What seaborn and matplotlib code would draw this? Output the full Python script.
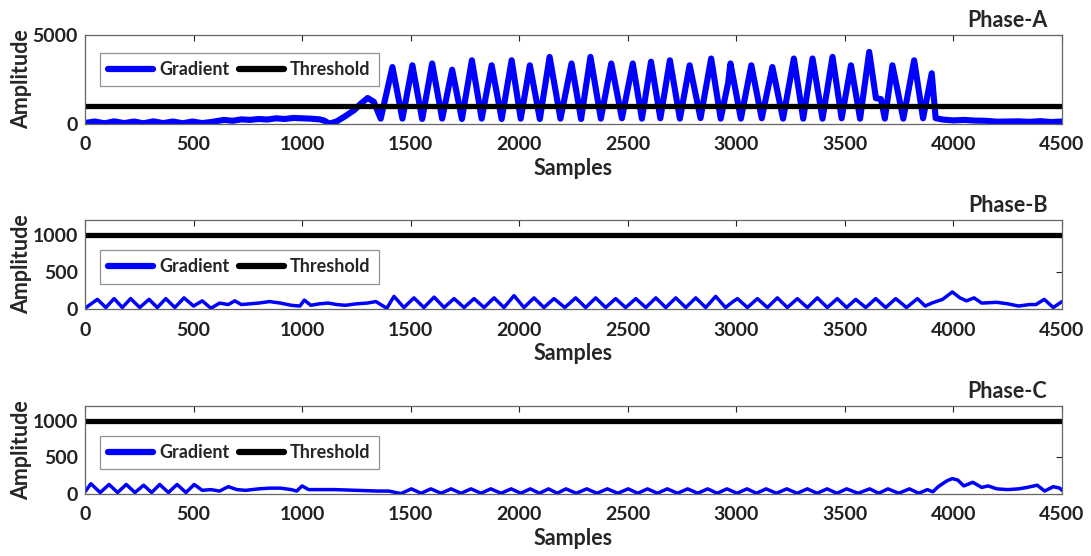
import numpy as np
import pandas as pd
import matplotlib
matplotlib.use("Agg")
import matplotlib.pyplot as plt
import seaborn as sns

# ---------------- data ----------------
threshold_x = [0, 4500]
threshold_y = [1000, 1000]

phase_a_x = [0, 45, 90, 135, 180, 225, 270, 315, 360, 405, 450, 495, 540, 585,
             600, 640, 680, 720, 760, 800, 840, 880, 920, 960, 1000, 1040, 1080,
             1100, 1126, 1160, 1200, 1241, 1271, 1302, 1330, 1362,
             1416, 1462, 1508, 1553, 1599, 1645, 1691, 1736, 1782, 1827, 1873,
             1919, 1965, 2007, 2049, 2095, 2140, 2190, 2241, 2285, 2328, 2376,
             2424, 2473, 2523, 2565, 2607, 2650, 2694, 2740, 2785, 2835, 2884,
             2928, 2962, 2973, 3021, 3069, 3117, 3166, 3215, 3265, 3308, 3351,
             3397, 3443, 3485, 3528, 3570, 3612, 3643, 3666, 3684, 3719, 3769,
             3819, 3860, 3900, 3918, 3950, 4000, 4050, 4100, 4150, 4200, 4250,
             4300, 4350, 4400, 4450, 4500]
phase_a_y = [60, 140, 40, 150, 50, 140, 40, 150, 50, 140, 40, 140, 50, 120,
             150, 230, 180, 260, 230, 280, 250, 320, 280, 340, 320, 300, 260,
             200, 20, 150, 450, 790, 1150, 1460, 1250, 300,
             3200, 300, 3300, 280, 3400, 300, 3050, 280, 3580, 300, 3300,
             280, 3580, 300, 3300, 280, 3770, 300, 3400, 280, 3770, 300,
             3400, 320, 3400, 300, 3500, 320, 3580, 300, 3300, 330, 3680,
             300, 2300, 3400, 300, 3300, 320, 3200, 300, 3680, 300, 3680,
             300, 3770, 320, 3300, 300, 4050, 1450, 1400, 300, 3300, 300,
             3580, 320, 2850, 330, 250, 200, 230, 190, 180, 130, 140,
             150, 120, 160, 110, 140]

phase_b_x = [0, 57, 96, 134, 172, 210, 252, 295, 333, 372, 414, 456, 500, 540,
             580, 620, 660, 690, 720, 760, 800, 850, 900, 950, 990, 1010, 1040,
             1080, 1120, 1160, 1200, 1250, 1300, 1340, 1390,
             1423, 1469, 1515, 1561, 1608, 1654, 1700, 1746, 1792, 1838, 1884,
             1930, 1976, 2022, 2068, 2114, 2160, 2210, 2260, 2306, 2352, 2398,
             2444, 2490, 2537, 2583, 2629, 2675, 2721, 2767, 2813, 2859, 2905,
             2950, 2985, 3005, 3051, 3097, 3143, 3189, 3235, 3281, 3327, 3373,
             3419, 3465, 3508, 3550, 3596, 3642, 3688, 3734, 3784, 3834, 3870,
             3900, 3950, 3995, 4030, 4060, 4095, 4130, 4200, 4250, 4300, 4350,
             4380, 4418, 4460, 4500]
phase_b_y = [10, 130, 20, 140, 20, 140, 20, 130, 20, 140, 20, 150, 40, 110,
             10, 80, 60, 110, 60, 70, 80, 100, 80, 50, 40, 120, 50,
             70, 80, 60, 50, 70, 80, 100, 10,
             170, 20, 150, 20, 160, 20, 140, 20, 140, 20, 150,
             20, 180, 20, 150, 20, 140, 20, 150, 20, 150, 20,
             140, 20, 140, 20, 150, 20, 150, 20, 150, 20, 170,
             20, 100, 140, 20, 140, 20, 150, 20, 140, 20, 150,
             20, 140, 20, 130, 20, 140, 20, 140, 20, 140, 40,
             80, 130, 230, 150, 110, 150, 80, 90, 70, 40, 60,
             60, 130, 20, 100]

phase_c_x = [0, 27, 70, 111, 150, 190, 230, 270, 307, 344, 384, 424, 465, 503,
             540, 580, 620, 660, 700, 740, 800, 850, 900, 950, 975, 1000, 1030,
             1080, 1150, 1200, 1250, 1300, 1350, 1400, 1455,
             1503, 1548, 1593, 1640, 1686, 1732, 1778, 1824, 1869, 1916, 1963,
             2007, 2051, 2093, 2135, 2175, 2215, 2263, 2311, 2358, 2406, 2454,
             2502, 2546, 2591, 2636, 2682, 2729, 2776, 2822, 2868, 2912, 2957,
             3003, 3049, 3093, 3137, 3185, 3232, 3280, 3327, 3372, 3418, 3463,
             3508, 3561, 3614, 3656, 3698, 3748, 3797, 3840, 3880, 3905,
             3930, 3970, 3995, 4020, 4048, 4089, 4130, 4160, 4200, 4250, 4300,
             4340, 4386, 4420, 4460, 4490, 4500]
phase_c_y = [30, 140, 20, 130, 20, 130, 20, 120, 20, 130, 20, 130, 20, 130,
             50, 60, 40, 100, 60, 50, 70, 80, 80, 60, 40, 110, 60,
             60, 60, 55, 50, 45, 40, 40, 5,
             70, 10, 70, 10, 70, 10, 70, 10, 70, 10, 70,
             10, 70, 10, 70, 10, 70, 10, 70, 10, 70, 10,
             70, 10, 70, 10, 70, 10, 70, 10, 70, 10, 70,
             10, 70, 10, 70, 10, 70, 10, 70, 10, 70, 10,
             70, 10, 70, 10, 70, 10, 70, 10, 60, 30,
             100, 180, 210, 190, 110, 160, 90, 110, 70, 60, 70,
             90, 120, 40, 100, 80, 50]

phase_titles = ["Phase-A", "Phase-B", "Phase-C"]
x_ticks = [0, 500, 1000, 1500, 2000, 2500, 3000, 3500, 4000, 4500]
a_yticks = [0, 5000]
bc_yticks = [0, 500, 1000]

# ---------------- styling ----------------
sns.set_style("white")
plt.rcParams['font.family'] = ['Lato', 'DejaVu Sans']
plt.rcParams['font.weight'] = 'bold'

fig = plt.figure(figsize=(10.91, 5.56), dpi=100)

W, H = 1091.0, 556.0
left_px, right_px = 85, 1062
boxes = [(35, 124), (220, 309), (406, 494)]  # (top, bottom) in pixels

series = [(phase_a_x, phase_a_y, (0, 5000), a_yticks, 4.4, 0.80),
          (phase_b_x, phase_b_y, (0, 1200), bc_yticks, 2.5, 0.66),
          (phase_c_x, phase_c_y, (0, 1200), bc_yticks, 2.5, 0.66)]

spine_col = '#666666'
for i, ((top, bot), (sx, sy, ylim, yt, lw, leg_y)) in enumerate(zip(boxes, series)):
    ax = fig.add_axes([left_px / W, 1 - bot / H, (right_px - left_px) / W, (bot - top) / H])
    df = pd.DataFrame({"Samples": sx, "Amplitude": sy})
    dft = pd.DataFrame({"Samples": threshold_x, "Amplitude": threshold_y})
    sns.lineplot(data=df, x="Samples", y="Amplitude", ax=ax, color=(0, 0, 1),
                 linewidth=lw, estimator=None, sort=False, label="Gradient")
    sns.lineplot(data=dft, x="Samples", y="Amplitude", ax=ax, color='black',
                 linewidth=3.8, estimator=None, sort=False, label="Threshold")
    ax.set_xlim(0, 4500)
    ax.set_ylim(*ylim)
    ax.set_xticks(x_ticks)
    ax.set_yticks(yt)
    ax.tick_params(direction='in', top=True, right=True, length=4, width=0.8,
                   colors='#222222', labelsize=14, pad=5)
    ax.tick_params(axis='x', pad=9)
    for lab in ax.get_xticklabels() + ax.get_yticklabels():
        lab.set_fontweight('bold')
    for sp in ax.spines.values():
        sp.set_color(spine_col)
        sp.set_linewidth(0.9)
    ax.set_xlabel("Samples", fontsize=15.5, fontweight='bold', labelpad=3)
    ax.set_ylabel("Amplitude", fontsize=15.5, fontweight='bold')
    ax.yaxis.set_label_coords(-0.054, 0.5)
    ax.text(0.985, 1.04, phase_titles[i], transform=ax.transAxes, ha='right',
            va='bottom', fontsize=15.5, fontweight='bold')
    leg = ax.legend(loc='upper left', bbox_to_anchor=(0.015, leg_y), ncol=2,
                    frameon=True, fancybox=False, edgecolor='#777777',
                    handlelength=2.5, handletextpad=0.35, columnspacing=0.5,
                    borderpad=0.45, borderaxespad=0.0,
                    prop={'weight': 'bold', 'size': 13})
    leg.get_frame().set_linewidth(0.9)
    for h in leg.get_lines():
        h.set_linewidth(4.5)

fig.savefig("out.png", dpi=100)
